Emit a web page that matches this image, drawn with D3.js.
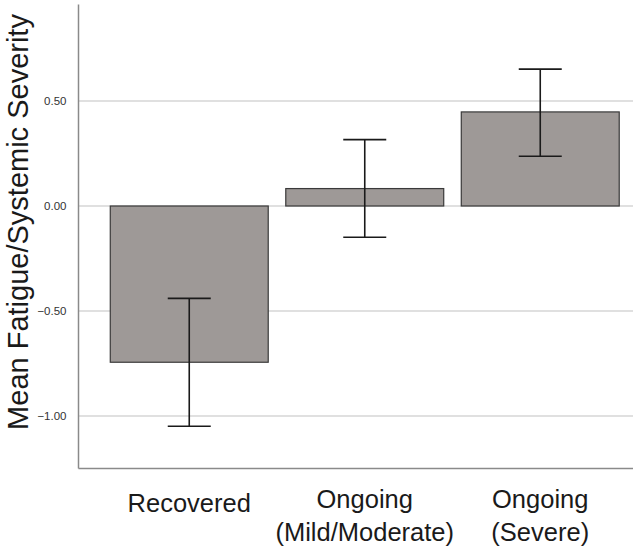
<!DOCTYPE html>
<html><head><meta charset="utf-8">
<script src="https://cdn.jsdelivr.net/npm/d3@7"></script>
<style>body{margin:0;background:#fff}svg{display:block}</style>
</head><body>
<script>
const categories = ["Recovered", "Ongoing\n(Mild/Moderate)", "Ongoing\n(Severe)"];
const means = [-0.744, 0.083, 0.448];
const ciLow = [-1.049, -0.149, 0.237];
const ciHigh = [-0.440, 0.316, 0.652];
const yTicks = [-1.0, -0.5, 0.0, 0.5];
const yTitle = "Mean Fatigue/Systemic Severity";

const W = 633, H = 548;
const svg = d3.select("body").append("svg").attr("width", W).attr("height", H);
const font = "'Liberation Sans', Arial, sans-serif";

const y = d3.scaleLinear().domain([-1.25, 0.96]).range([468.5, 4.4]);
const x = d3.scaleBand().domain(categories).range([101.5, 628]).paddingInner(0.1).paddingOuter(0.05);
const left = 78.5, right = 633;

// gridlines
svg.append("g").selectAll("line").data(yTicks).join("line")
  .attr("x1", left).attr("x2", right)
  .attr("y1", d => y(d)).attr("y2", d => y(d))
  .attr("stroke", "#d6d6d6").attr("stroke-width", 1.5);

// y axis
const yAxis = d3.axisLeft(y).tickValues(yTicks).tickFormat(d3.format(".2f")).tickSize(0).tickPadding(12);
const gy = svg.append("g").attr("transform", `translate(${left},0)`).call(yAxis);
gy.select(".domain").remove();
gy.selectAll("text").attr("font-family", font).attr("font-size", 11.5).attr("fill", "#333");

// axis lines
svg.append("line").attr("x1", left).attr("x2", left).attr("y1", y(0.96)).attr("y2", y(-1.25))
  .attr("stroke", "#8a8a8a").attr("stroke-width", 1.5);
svg.append("line").attr("x1", left).attr("x2", right).attr("y1", y(-1.25)).attr("y2", y(-1.25))
  .attr("stroke", "#8a8a8a").attr("stroke-width", 1.5);

// bars
svg.append("g").selectAll("rect").data(categories).join("rect")
  .attr("x", d => x(d))
  .attr("width", x.bandwidth())
  .attr("y", (d, i) => y(Math.max(0, means[i])))
  .attr("height", (d, i) => Math.abs(y(means[i]) - y(0)))
  .attr("fill", "#9e9997").attr("stroke", "#3a3a3a").attr("stroke-width", 1.2);

// error bars
const eb = svg.append("g").attr("stroke", "#1a1a1a").attr("stroke-width", 1.6);
categories.forEach((c, i) => {
  const cx = x(c) + x.bandwidth() / 2;
  eb.append("line").attr("x1", cx).attr("x2", cx).attr("y1", y(ciLow[i])).attr("y2", y(ciHigh[i]));
  [ciLow[i], ciHigh[i]].forEach(v => {
    eb.append("line").attr("x1", cx - 21.5).attr("x2", cx + 21.5).attr("y1", y(v)).attr("y2", y(v));
  });
});

// x labels
categories.forEach(c => {
  const cx = x(c) + x.bandwidth() / 2;
  const lines = c.split("\n");
  const t = svg.append("text").attr("x", cx).attr("y", lines.length === 1 ? 512 : 508).attr("text-anchor", "middle")
    .attr("font-family", font).attr("font-size", 25.5).attr("fill", "#1a1a1a");
  lines.forEach((line, j) => {
    t.append("tspan").attr("x", cx).attr("dy", j === 0 ? 0 : 33).text(line);
  });
});

// y title
svg.append("text").attr("transform", `translate(28,222) rotate(-90)`)
  .attr("text-anchor", "middle").attr("font-family", font).attr("font-size", 29).attr("fill", "#1a1a1a")
  .text(yTitle);
</script>
</body></html>
